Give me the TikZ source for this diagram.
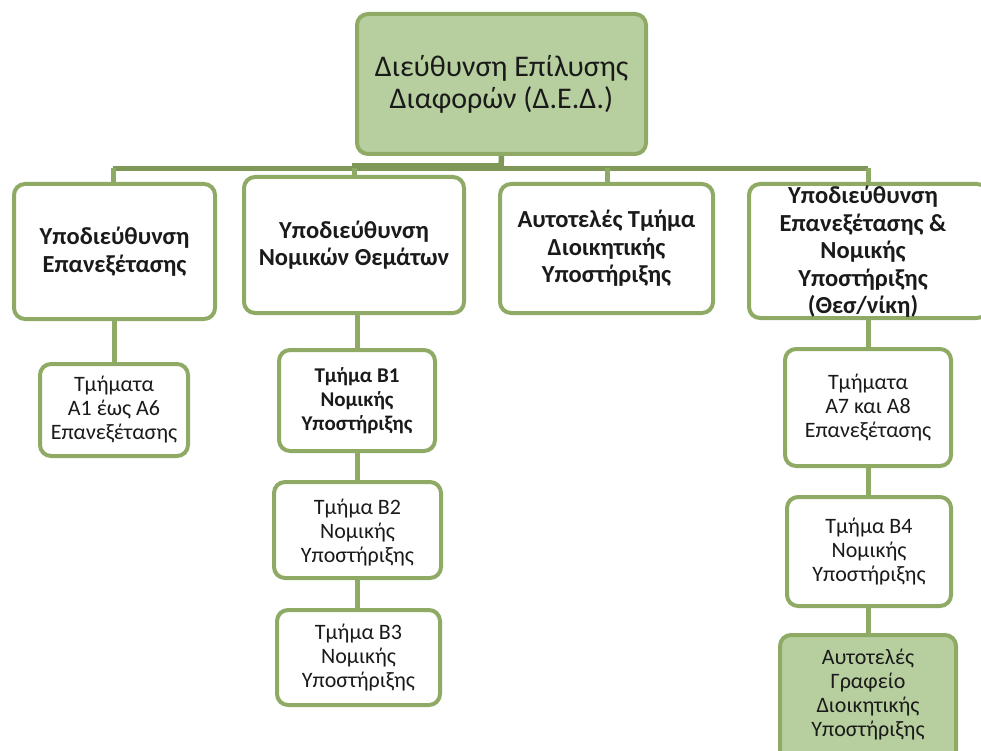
\documentclass[tikz,border=0pt]{standalone}
\usepackage{fontspec}
\setmainfont{Carlito}
\usetikzlibrary{backgrounds}
\definecolor{bord}{HTML}{8EAA64}
\definecolor{busc}{HTML}{7F9858}
\definecolor{fillg}{HTML}{B7CF9E}
\definecolor{txt}{HTML}{1A1A1A}
\begin{document}
\begin{tikzpicture}[x=1pt,y=-1pt,
  box/.style={draw=bord, line width=4pt, rounded corners=11pt, fill=white, inner sep=0pt},
  lbl/.style={align=center, text=txt, inner sep=0pt},
  topfont/.style={font=\fontsize{30}{32}\selectfont},
  lvlone/.style={font=\fontsize{24.5}{27.5}\selectfont\bfseries},
  lvltwo/.style={font=\fontsize{22}{24}\selectfont},
  lvltwob/.style={font=\fontsize{21}{24}\selectfont\bfseries},
  conn/.style={draw=bord, line width=5pt},
  busline/.style={draw=busc, line width=5.5pt}]
\useasboundingbox (0,0) rectangle (981,751);
\clip (0,0) rectangle (981,751);
% junction points on the bus
\coordinate (jL) at (113,168.5);
\coordinate (j2) at (354,168.5);
\coordinate (j3) at (607,168.5);
\coordinate (jR) at (868,168.5);
\coordinate (jT) at (501,167);
\coordinate (jTs) at (352,167);
% boxes
\node[box, fill=fillg, minimum width=289pt, minimum height=140pt] (top) at (501.5,84) {};
\node[box, minimum width=201pt, minimum height=135pt] (s1) at (114.5,251.5) {};
\node[box, minimum width=220pt, minimum height=136pt] (s2) at (354,245) {};
\node[box, minimum width=213pt, minimum height=129pt] (s3) at (606.5,248.5) {};
\node[box, minimum width=239pt, minimum height=134pt] (s4) at (868.5,251) {};
\node[box, minimum width=148pt, minimum height=92pt] (a16) at (114,410) {};
\node[box, minimum width=156pt, minimum height=101pt] (b1) at (357,400.5) {};
\node[box, minimum width=167pt, minimum height=96pt] (b2) at (357.5,530) {};
\node[box, minimum width=163pt, minimum height=95pt] (b3) at (358.5,657.5) {};
\node[box, minimum width=166pt, minimum height=117pt] (a78) at (868,407.5) {};
\node[box, minimum width=164pt, minimum height=109pt] (b4) at (869,551.5) {};
\node[box, fill=fillg, minimum width=176pt, minimum height=128pt] (ag) at (868,699) {};
% texts
\node[lbl, topfont] (ttop) at (top.center) {Διεύθυνση Επίλυσης\\Διαφορών (Δ.Ε.Δ.)};
\node[lbl, lvlone] (ts1) at (s1.center) {Υποδιεύθυνση\\Επανεξέτασης};
\node[lbl, lvlone] (ts2) at (s2.center) {Υποδιεύθυνση\\Νομικών Θεμάτων};
\node[lbl, lvlone] (ts3) at (s3.center) {Αυτοτελές Τμήμα\\Διοικητικής\\Υποστήριξης};
\node[lbl, lvlone] (ts4) at (863,252) {Υποδιεύθυνση\\Επανεξέτασης \&\\Νομικής\\Υποστήριξης\\(Θεσ/νίκη)};
\node[lbl, lvltwo] (ta16) at (a16.center) {Τμήματα\\Α1 έως Α6\\Επανεξέτασης};
\node[lbl, lvltwob] (tb1) at (b1.center) {Τμήμα Β1\\Νομικής\\Υποστήριξης};
\node[lbl, lvltwo] (tb2) at (357.5,533) {Τμήμα Β2\\Νομικής\\Υποστήριξης};
\node[lbl, lvltwo] (tb3) at (b3.center) {Τμήμα Β3\\Νομικής\\Υποστήριξης};
\node[lbl, lvltwo] (ta78) at (a78.center) {Τμήματα\\Α7 και Α8\\Επανεξέτασης};
\node[lbl, lvltwo] (tb4) at (b4.center) {Τμήμα Β4\\Νομικής\\Υποστήριξης};
\node[lbl, lvltwo] (tag) at (868,695) {Αυτοτελές\\Γραφείο\\Διοικητικής\\Υποστήριξης};
% connectors (behind boxes)
\begin{scope}[on background layer]
  \draw[busline] (jL) -- (jR);
  \draw[busc, line width=8pt] (jTs) -- (jT);
  \draw[busline] (top.south) -- (jT);
  \draw[conn] (jL) -- (s1.north -| jL);
  \draw[conn] (j2) -- (s2.north -| j2);
  \draw[conn] (j3) -- (s3.north -| j3);
  \draw[conn] (jR) -- (s4.north -| jR);
  \draw[conn] (a16.north) -- (a16.north |- s1.south);
  \draw[conn] (b1.north) -- (b1.north |- s2.south);
  \draw[conn] (b2.north -| b1.south) -- (b1.south);
  \draw[conn] (b3.north -| b1.south) -- (b1.south);
  \draw[conn] (a78.north) -- (a78.north |- s4.south);
  \draw[conn] (b4.north -| a78.south) -- (a78.south);
  \draw[conn] (ag.north -| a78.south) -- (b4.south -| a78.south);
\end{scope}
\end{tikzpicture}
\end{document}
